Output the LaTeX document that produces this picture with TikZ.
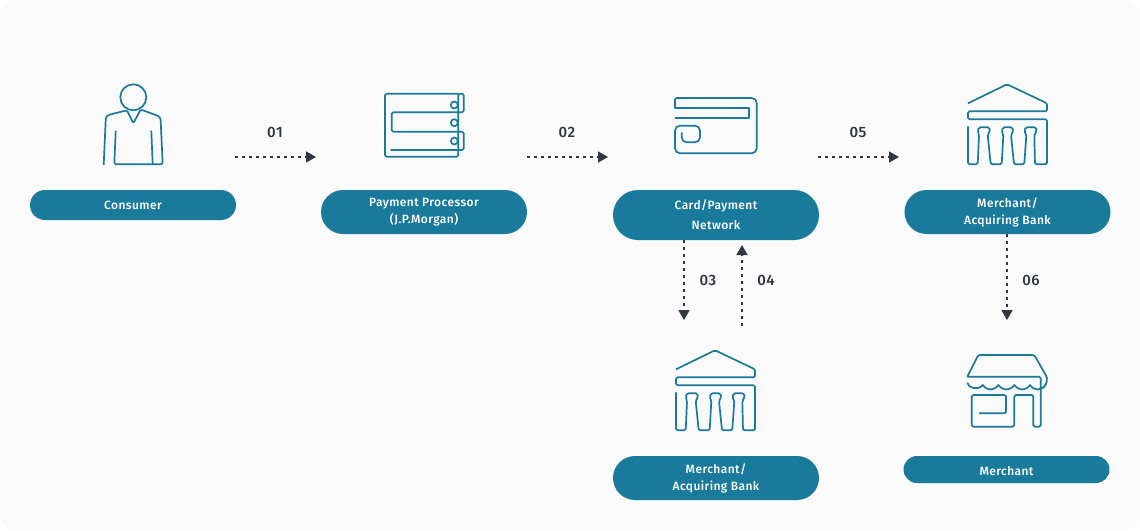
\documentclass[tikz,border=0pt]{standalone}
\usepackage{fontspec}
\setmainfont[LetterSpace=3]{Fira Sans}
\newfontfamily\pillfont[LetterSpace=3.4]{Fira Sans Medium}
\usepackage{xcolor}
\definecolor{teal1}{HTML}{1A7A9C}
\definecolor{dark1}{HTML}{2F3640}
\definecolor{back1}{HTML}{FAFAFA}
\usetikzlibrary{arrows.meta}
\usetikzlibrary{shapes.misc}
\tikzset{
    pill/.style={rounded rectangle, fill=teal1, text=white, inner sep=0pt, minimum width=206pt,
        minimum height=#1, align=center, font=\pillfont\fontsize{12}{17}\selectfont},
    drop/.style={execute at begin node={\rule{0pt}{#1}}},
    icon/.style={draw=teal1, line width=1.7pt, rounded corners=1.5pt, line join=round},
    flow/.style={draw=dark1, line width=1.5pt, dash pattern=on 3pt off 4pt,
        -{Triangle[length=10pt, width=11pt]}},
    num/.style={text=dark1, font=\pillfont\fontsize{15}{16}\selectfont},
    pics/bankicon/.style={code={
        \draw[icon] (-39, 19) -- (0, 0) -- (40, 19) -- (40, 27) -- (-39, 27) -- (-39, 35)
            -- (40, 35) -- (40, 80) -- (28, 80) -- (27.3, 50.7) -- (29.7, 46.7) -- (29, 43) -- (18.7, 43)
            -- (17.3, 46.7) -- (19.3, 50.7) -- (17.3, 80) -- (7, 80) -- (4, 50.7) -- (6.3, 46.7) -- (5.3, 43)
            -- (-4, 43) -- (-5.3, 46.7) -- (-3.7, 50.7) -- (-5.3, 80) -- (-16.3, 80) -- (-19.3, 50.7)
            -- (-17, 46.7) -- (-17.7, 43) -- (-28, 43) -- (-29.3, 46.7) -- (-28, 50.7) -- (-29.3, 80)
            -- (-39, 80) -- (-39, 42);
    }}
}
\begin{document}
\begin{tikzpicture}[x=1pt, y=-1pt]
    \useasboundingbox (0, 0) rectangle (1140, 530);
    \fill[back1, rounded corners=16pt] (0, 0) rectangle (1140, 530);

    % pills
    \node[pill=30pt] (consumer) at (133, 205) {Consumer};
    \node[pill=44pt, drop=14pt] (processor) at (424, 212) {Payment Processor\\(J.P.Morgan)};
    \node[pill=50pt, font=\pillfont\fontsize{12}{20}\selectfont] (network) at (716, 215) {Card/Payment\\Network};
    \node[pill=44pt, drop=14pt] (acquirer) at (1007.5, 212) {Merchant/\\Acquiring Bank};
    \node[pill=44pt, drop=15pt] (acquirerb) at (716, 478) {Merchant/\\Acquiring Bank};
    \node[pill=27pt, drop=12pt] (merchant) at (1006.5, 469.5) {Merchant};

    % arrow ends
    \coordinate (p1) at (235, 157);
    \coordinate (q1) at (316, 157);
    \coordinate (p2) at (527, 157);
    \coordinate (q2) at (608, 157);
    \coordinate (p5) at (818, 157);
    \coordinate (q5) at (899, 157);
    \coordinate (q3) at (684, 320);
    \coordinate (p4) at (742, 326);
    \coordinate (q4) at (742, 245);
    \coordinate (q6) at (1007, 320);

    \draw[flow] (p1) -- (q1);
    \draw[flow] (p2) -- (q2);
    \draw[flow] (p5) -- (q5);
    \draw[flow] (network.south -| q3) -- (q3);
    \draw[flow] (p4) -- (q4);
    \draw[flow] (acquirer.south -| q6) -- (q6);

    \node[num] (n1) at (275, 132.5) {01};
    \node[num] (n2) at (567, 132.5) {02};
    \node[num] (n5) at (858, 132.5) {05};
    \node[num] (n3) at (708, 280.5) {03};
    \node[num] (n4) at (766, 280.5) {04};
    \node[num] (n6) at (1031, 280.5) {06};

    % consumer
    \draw[icon, fill=back1] (133.3, 97.3) circle (13);
    \draw[icon] (103.7, 165) -- (105.7, 120) .. controls (106, 116) and (108, 115) .. (112, 114) -- (127, 110.3)
        -- (133.3, 123.3) -- (140.7, 109.5) -- (157, 115.5) .. controls (159, 116.5) and (160.5, 118) .. (160.7, 121)
        -- (162.7, 164.3) -- (114.3, 164.3) -- (115.7, 130.7);
    \draw[icon] (151.3, 130.7) -- (152.7, 164.3);

    % processor
    \draw[icon] (458.3, 93.7) -- (385, 93.7) -- (385, 156.7) -- (458.3, 156.7) -- (458.3, 93.7)
        -- (463.7, 93.7) -- (463.7, 112.3) -- (391.7, 112.3) -- (391.7, 131.7) -- (463.7, 131.7)
        -- (463.7, 150) -- (390.7, 150);
    \draw[icon, fill=back1] (454.3, 105) circle (3.5);
    \draw[icon, fill=back1] (454.3, 122.7) circle (3.5);
    \draw[icon, fill=back1] (454.3, 141) circle (3.5);

    % card
    \draw[icon] (675, 108.3) -- (675, 98) [rounded corners=5pt] -- (756.7, 98) -- (756.7, 153.3) -- (675, 153.3)
        -- (675, 125.7) -- (700, 125.7) -- (700, 142.3) -- (681.7, 142.3) [sharp corners] -- (681.7, 132.3);
    \draw[icon, rounded corners=0pt] (675, 108.3) -- (749.3, 108.3) -- (749.3, 117.7) -- (675, 117.7);

    % banks
    \pic at (1007, 84.3) {bankicon};
    \pic at (715, 350.3) {bankicon};

    % shop
    \draw[icon] (967.3, 376.7) -- (978.3, 355) -- (1034.3, 355) -- (1046.7, 376.7)
        .. controls (1047.5, 382) and (1045, 388) .. (1040.7, 388.5);
    \draw[icon] (967.3, 376.7) -- (1040.7, 376.7) -- (1040.7, 426.7) -- (1033.3, 426.7) -- (1033.3, 395)
        -- (1014.3, 395) -- (1014.3, 426.7) -- (971.7, 426.7) -- (971.7, 395) -- (1006, 395)
        -- (1006, 413.3) -- (979, 413.3);
    \draw[icon, rounded corners=0pt] (967.3, 382.7) .. controls (968, 388) and (978, 391) .. (982.7, 385)
        .. controls (987, 391) and (994, 391) .. (998.3, 385)
        .. controls (1003, 391) and (1010, 391) .. (1014.3, 385)
        .. controls (1019, 391) and (1026, 391) .. (1030, 385)
        .. controls (1034, 391) and (1041, 391) .. (1045.7, 385);
\end{tikzpicture}
\end{document}
